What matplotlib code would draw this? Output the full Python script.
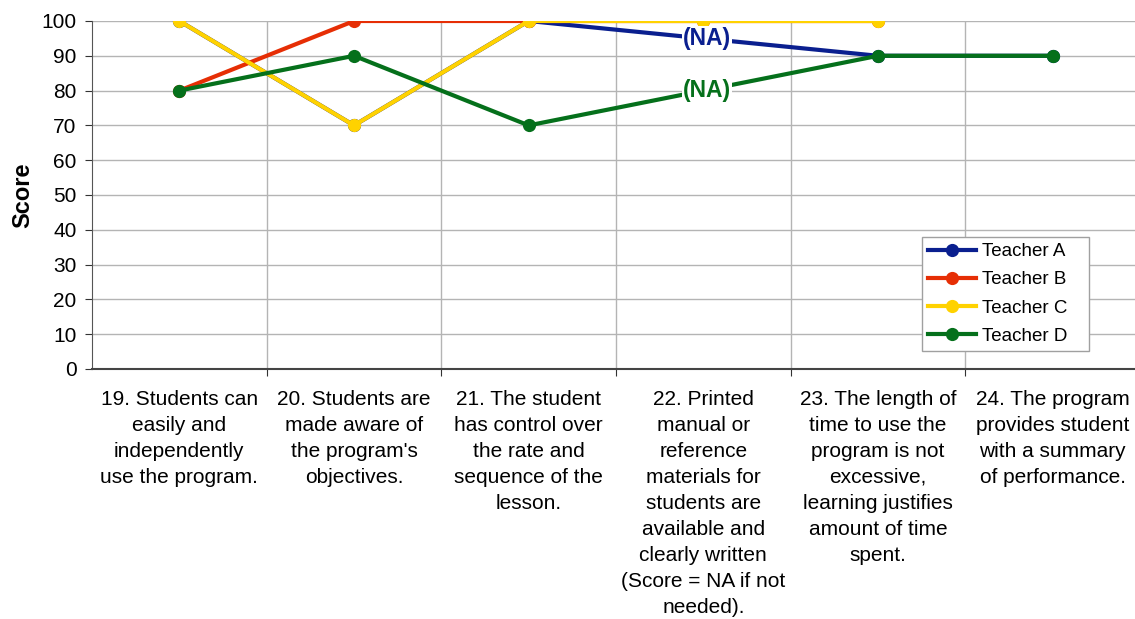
import numpy as np
import matplotlib
matplotlib.use("Agg")
import matplotlib.pyplot as plt

plt.rcParams['font.family'] = ['Liberation Sans', 'DejaVu Sans']

# question labels along the x axis
questions = [
    "19. Students can\neasily and\nindependently\nuse the program.",
    "20. Students are\nmade aware of\nthe program's\nobjectives.",
    "21. The student\nhas control over\nthe rate and\nsequence of the\nlesson.",
    "22. Printed\nmanual or\nreference\nmaterials for\nstudents are\navailable and\nclearly written\n(Score = NA if not\nneeded).",
    "23. The length of\ntime to use the\nprogram is not\nexcessive,\nlearning justifies\namount of time\nspent.",
    "24. The program\nprovides student\nwith a summary\nof performance.",
]

# scores per teacher, NaN = not applicable
teacher_a = [100, 70, 100, np.nan, 90, 90]
teacher_b = [80, 100, 100, 100, 100, np.nan]
teacher_c = [100, 70, 100, 100, 100, np.nan]
teacher_d = [80, 90, 70, np.nan, 90, 90]

series = [
    ("Teacher A", teacher_a, "#0a1f8f"),
    ("Teacher B", teacher_b, "#e62e05"),
    ("Teacher C", teacher_c, "#ffd200"),
    ("Teacher D", teacher_d, "#05701b"),
]

fig = plt.figure(figsize=(11.35, 6.19), dpi=100)
ax = fig.add_axes([92 / 1135, 1 - 369 / 619, (1140 - 92) / 1135, (369 - 21) / 619])

x = np.arange(len(questions))
for name, vals, col in series:
    vals = np.array(vals, dtype=float)
    ok = ~np.isnan(vals)
    # trailing spaces give the legend box some room on the right
    ax.plot(x[ok], vals[ok], color=col, lw=3, marker="o", ms=9.5,
            markeredgewidth=0, label=name + "   ", zorder=3)
    # mark skipped points on the joining line
    for i in np.where(~ok)[0]:
        left = i - 1
        right = i + 1
        if left >= 0 and right < len(vals) and ok[left] and ok[right]:
            yv = (vals[left] + vals[right]) / 2
            ax.text(x[i] + 0.02, yv, "(NA)", color=col, fontsize=16.5, fontweight="bold",
                    ha="center", va="center", zorder=4,
                    bbox=dict(facecolor="white", edgecolor="none", pad=0.5))

ax.set_xlim(-0.5, len(questions) - 0.5)
ax.set_ylim(0, 100)
ax.set_yticks(np.arange(0, 101, 10))
ax.set_xticks(np.arange(len(questions) - 1) + 0.5)
ax.set_xticklabels([])
ax.set_xticks(x, minor=True)
ax.set_xticklabels(questions, minor=True, fontsize=15, linespacing=1.47, va="top")
ax.tick_params(axis="x", which="minor", length=0, pad=15)
ax.tick_params(axis="x", which="major", length=5, direction="out", color="#333333")
ax.tick_params(axis="y", length=5, direction="out", labelsize=15, pad=6, color="#333333")

ax.grid(True, which="major", color="#b4b4b4", lw=1)
ax.set_axisbelow(True)
for s in ["top", "right"]:
    ax.spines[s].set_visible(False)
ax.spines["left"].set_color("#555555")
ax.spines["bottom"].set_color("#444444")
ax.spines["bottom"].set_linewidth(1.5)

ax.set_ylabel("Score", fontsize=17, fontweight="bold", labelpad=5)

leg = ax.legend(loc="upper left", bbox_to_anchor=(922 / 1135, 1 - 237 / 619),
                bbox_transform=fig.transFigure, fontsize=13.5, fancybox=False,
                framealpha=1, edgecolor="#a0a0a0", borderpad=0.33, labelspacing=0.59,
                handlelength=2.55, handletextpad=0.3, borderaxespad=0)
leg.get_frame().set_linewidth(1)

fig.savefig("out.png", dpi=100)
